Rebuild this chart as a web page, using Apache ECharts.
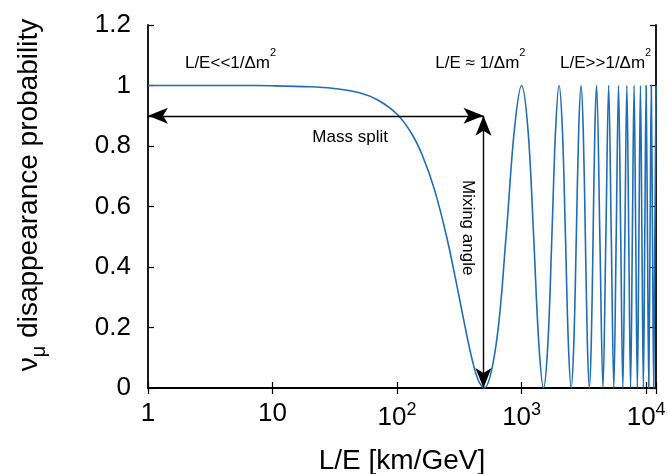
<!DOCTYPE html>
<html>
<head>
<meta charset="utf-8">
<script src="https://cdn.jsdelivr.net/npm/echarts@6/dist/echarts.min.js"></script>
<style>
html,body{margin:0;padding:0;background:#fff;}
#chart{width:667px;height:474px;}
</style>
</head>
<body>
<div id="chart"></div>
<script>
// L/E values [km/GeV]
const xs = [1, 2, 5, 10, 20, 30, 50, 70, 100, 130, 160, 200, 250, 300, 350, 400, 450, 500,
  625, 750, 875, 1000, 1125, 1250, 1375, 1500, 1625, 1750, 1875, 2000, 2125, 2250, 2375, 2500,
  2625, 2750, 2875, 3000, 3125, 3250, 3375, 3500, 3625, 3750, 3875, 4000,
  4250, 4500, 4750, 5000, 5250, 5500, 5750, 6000, 6250, 6500, 6750, 7000, 7250, 7500, 7750, 8000,
  8250, 8500, 8750, 9000, 9250, 9500, 9750, 10000, 10250, 10500, 10750, 11000, 11250, 11500, 11750, 12000];
// probability values
const ys = [1, 1, 1, 0.999, 0.996, 0.991, 0.976, 0.952, 0.905, 0.843, 0.768, 0.655, 0.5, 0.345, 0.206, 0.095, 0.024, 0,
  0.146, 0.5, 0.854, 1, 0.854, 0.5, 0.146, 0, 0.146, 0.5, 0.854, 1, 0.854, 0.5, 0.146, 0,
  0.146, 0.5, 0.854, 1, 0.854, 0.5, 0.146, 0, 0.146, 0.5, 0.854, 1,
  0.5, 0, 0.5, 1, 0.5, 0, 0.5, 1, 0.5, 0, 0.5, 1, 0.5, 0, 0.5, 1,
  0.5, 0, 0.5, 1, 0.5, 0, 0.5, 1, 0.5, 0, 0.5, 1, 0.5, 0, 0.5, 1];

const xTickValues = [1, 10, 100, 1000, 10000];
const xTickLabels = ['1', '10', '{b|10}{s|2}', '{b|10}{s|3}', '{b|10}{s|4}'];

// annotation arrows: [x, y] endpoints
const massSplitArrow = [[1, 0.9], [494, 0.9]];
const mixingAngleArrow = [[494, 0.9], [494, 0]];

// annotation texts with their data positions
const noteTexts = ['{t|L/E<<1/Δm}{s|2}', '{t|L/E ≈ 1/Δm}{s|2}', '{t|L/E>>1/Δm}{s|2}', 'Mass split', 'Mixing angle'];
const noteX = [4.6, 467, 4730, 42, 367];
const noteY = [1.086, 1.086, 1.086, 0.83, 0.53];
const noteRotate = [0, 0, 0, 0, -90];

const FONT = 'Liberation Sans';
const data = xs.map((x, i) => [x, ys[i]]);

const chart = echarts.init(document.getElementById('chart'), null, {renderer: 'canvas'});

const axisLineStyle = {color: '#000', width: 1.8};
const tickStyle = {color: '#000', width: 1.2};

chart.setOption({
  animation: false,
  backgroundColor: '#fff',
  grid: {left: 148, right: 11, top: 25, bottom: 86, containLabel: false, outerBoundsMode: 'none'},
  xAxis: [{
    type: 'log', logBase: 10, min: 1, max: 12000, position: 'bottom',
    splitNumber: 4,
    axisLine: {show: true, lineStyle: axisLineStyle},
    axisTick: {show: true, inside: true, length: 6, lineStyle: tickStyle},
    minorTick: {show: false},
    splitLine: {show: false},
    axisLabel: {
      margin: 13, color: '#000', fontFamily: FONT, fontSize: 26,
      showMinLabel: true, showMaxLabel: true,
      formatter: function (v) {
        const i = xTickValues.findIndex(t => Math.abs(t - v) / t < 1e-6);
        return i >= 0 ? xTickLabels[i] : '';
      },
      rich: {
        b: {fontFamily: FONT, fontSize: 26, lineHeight: 30, color: '#000', verticalAlign: 'bottom'},
        s: {fontFamily: FONT, fontSize: 18, lineHeight: 18, color: '#000', verticalAlign: 'top'}
      }
    },
    name: 'L/E [km/GeV]', nameLocation: 'middle', nameGap: 59,
    nameTextStyle: {fontFamily: FONT, fontSize: 28, color: '#000'}
  }, {
    type: 'log', logBase: 10, min: 1, max: 12000, position: 'top',
    splitNumber: 4,
    axisLine: {show: true, lineStyle: axisLineStyle},
    axisTick: {show: true, inside: true, length: 6, lineStyle: tickStyle},
    axisLabel: {show: false},
    splitLine: {show: false}
  }],
  yAxis: [{
    type: 'value', min: 0, max: 1.2, interval: 0.2, position: 'left',
    axisLine: {show: true, lineStyle: axisLineStyle},
    axisTick: {show: true, inside: true, length: 6, lineStyle: tickStyle},
    splitLine: {show: false},
    axisLabel: {margin: 17, color: '#000', fontFamily: FONT, fontSize: 26}
  }, {
    type: 'value', min: 0, max: 1.2, interval: 0.2, position: 'right',
    axisLine: {show: true, lineStyle: axisLineStyle},
    axisTick: {show: true, inside: true, length: 6, lineStyle: tickStyle},
    splitLine: {show: false},
    axisLabel: {show: false}
  }],
  graphic: [{
    type: 'text',
    x: 32, y: 195,
    rotation: Math.PI / 2,
    style: {
      text: '{a|ν}{u|μ}{a| disappearance probability}',
      align: 'center', verticalAlign: 'middle',
      rich: {
        a: {fontFamily: FONT, fontSize: 28, lineHeight: 34, fill: '#000', verticalAlign: 'top'},
        u: {fontFamily: FONT, fontSize: 20, lineHeight: 20, fill: '#000', verticalAlign: 'bottom'}
      }
    }
  }],
  series: [{
    type: 'line',
    xAxisIndex: 0, yAxisIndex: 0,
    data: data,
    showSymbol: false,
    smooth: 0.35,
    clip: true,
    lineStyle: {color: '#1f6db4', width: 1.6},
    markLine: {
      silent: true,
      symbol: ['arrow', 'arrow'],
      symbolSize: [12, 20],
      lineStyle: {color: '#000', width: 1.4, type: 'solid'},
      label: {show: false},
      data: [
        [{coord: massSplitArrow[0]}, {coord: massSplitArrow[1]}],
        [{coord: mixingAngleArrow[0]}, {coord: mixingAngleArrow[1]}]
      ]
    },
    markPoint: {
      silent: true,
      symbol: 'circle', symbolSize: 1,
      itemStyle: {color: 'rgba(0,0,0,0)'},
      data: noteTexts.map((t, i) => ({
        coord: [noteX[i], noteY[i]],
        label: {
          show: true, position: 'inside', rotate: noteRotate[i],
          formatter: t, color: '#000', fontFamily: FONT, fontSize: 17,
          rich: {
            t: {fontFamily: FONT, fontSize: 17, lineHeight: 24, color: '#000', verticalAlign: 'bottom'},
            s: {fontFamily: FONT, fontSize: 11, lineHeight: 19, color: '#000', verticalAlign: 'top'}
          }
        }
      }))
    }
  }]
});
</script>
</body>
</html>
